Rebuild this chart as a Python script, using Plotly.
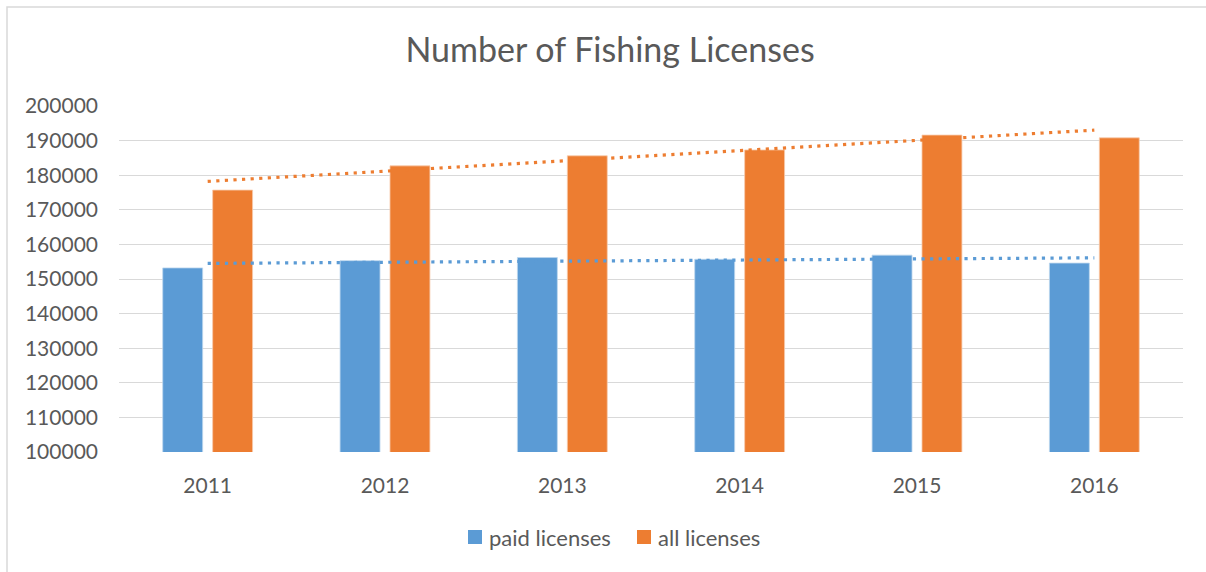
import numpy as np
import plotly.graph_objects as go

# Licence counts per year
years = ["2011", "2012", "2013", "2014", "2015", "2016"]
paid_licenses = [153200, 155300, 156200, 155700, 156900, 154600]
all_licenses = [175700, 182700, 185600, 187300, 191600, 190800]
series_names = ["paid licenses", "all licenses"]

y_ticks = list(range(100000, 200001, 10000))

BLUE = "#5B9BD5"
ORANGE = "#ED7D31"
TEXT = "#595959"
GRID = "#D9D9D9"
FONT = "Lato, Carlito, Calibri, sans-serif"

W, H = 1206, 572
M_L, M_R, M_T, M_B = 119, 23, 106, 120
PW, PH = W - M_L - M_R, H - M_T - M_B


def px_x(px):
    return (px - M_L) / PW


def px_y(py):
    return (H - M_B - py) / PH


def linear_trend(values):
    xs = np.arange(1, len(values) + 1)
    slope, intercept = np.polyfit(xs, values, 1)
    return list(slope * xs + intercept)


fig = go.Figure()

fig.add_trace(go.Bar(
    x=years, y=paid_licenses, name=series_names[0],
    marker=dict(color=BLUE, line=dict(color="#BDD7EE", width=0.8)),
))
fig.add_trace(go.Bar(
    x=years, y=all_licenses, name=series_names[1],
    marker=dict(color=ORANGE, line=dict(color="#F8CBAD", width=0.8)),
))

# Linear trendlines for each series
fig.add_trace(go.Scatter(
    x=years, y=linear_trend(paid_licenses), mode="lines",
    line=dict(color=BLUE, width=3.2, dash="3.2px,5.4px"),
    hoverinfo="skip",
))
fig.add_trace(go.Scatter(
    x=years, y=linear_trend(all_licenses), mode="lines",
    line=dict(color=ORANGE, width=3.2, dash="3.2px,5.4px"),
    hoverinfo="skip",
))

fig.update_layout(
    width=W, height=H,
    margin=dict(l=M_L, r=M_R, t=M_T, b=M_B),
    paper_bgcolor="white", plot_bgcolor="white",
    font=dict(family=FONT, color=TEXT, size=21),
    title=dict(
        text="Number of Fishing Licenses",
        x=610 / W, xanchor="center", xref="container",
        y=1 - 50 / H, yanchor="middle",
        font=dict(family=FONT, size=34, color=TEXT),
    ),
    barmode="group", bargap=0.437, bargroupgap=0.2,
    showlegend=False,
)

fig.update_xaxes(
    type="category", showgrid=False, showline=False, ticks="",
    tickfont=dict(family=FONT, size=21, color=TEXT), ticklabelstandoff=19,
)
fig.update_yaxes(
    range=[100000, 200000], tickvals=y_ticks, ticktext=[str(v) for v in y_ticks],
    showgrid=True, gridcolor=GRID, gridwidth=1.3, zeroline=False, showline=False,
    tickfont=dict(family=FONT, size=21, color=TEXT), ticklabelstandoff=20,
)

# Legend below the plot: colour square followed by series name
legend_items = [(series_names[0], BLUE, 468), (series_names[1], ORANGE, 637)]
for name, color, left in legend_items:
    fig.add_shape(
        type="rect", xref="paper", yref="paper",
        x0=px_x(left), x1=px_x(left + 14), y0=px_y(544), y1=px_y(530),
        line=dict(width=0), fillcolor=color,
    )
    fig.add_annotation(
        text=name, xref="paper", yref="paper",
        x=px_x(left + 19), y=px_y(537), xanchor="left", yanchor="middle",
        showarrow=False, font=dict(family=FONT, size=22, color=TEXT),
    )

# Chart frame (left and top edges visible inside the window)
fig.add_shape(
    type="rect", xref="paper", yref="paper",
    x0=px_x(7), x1=1.2, y0=-0.6, y1=px_y(7),
    line=dict(color=GRID, width=1.5), fillcolor="rgba(0,0,0,0)", layer="below",
)

fig.write_html("out.html")
